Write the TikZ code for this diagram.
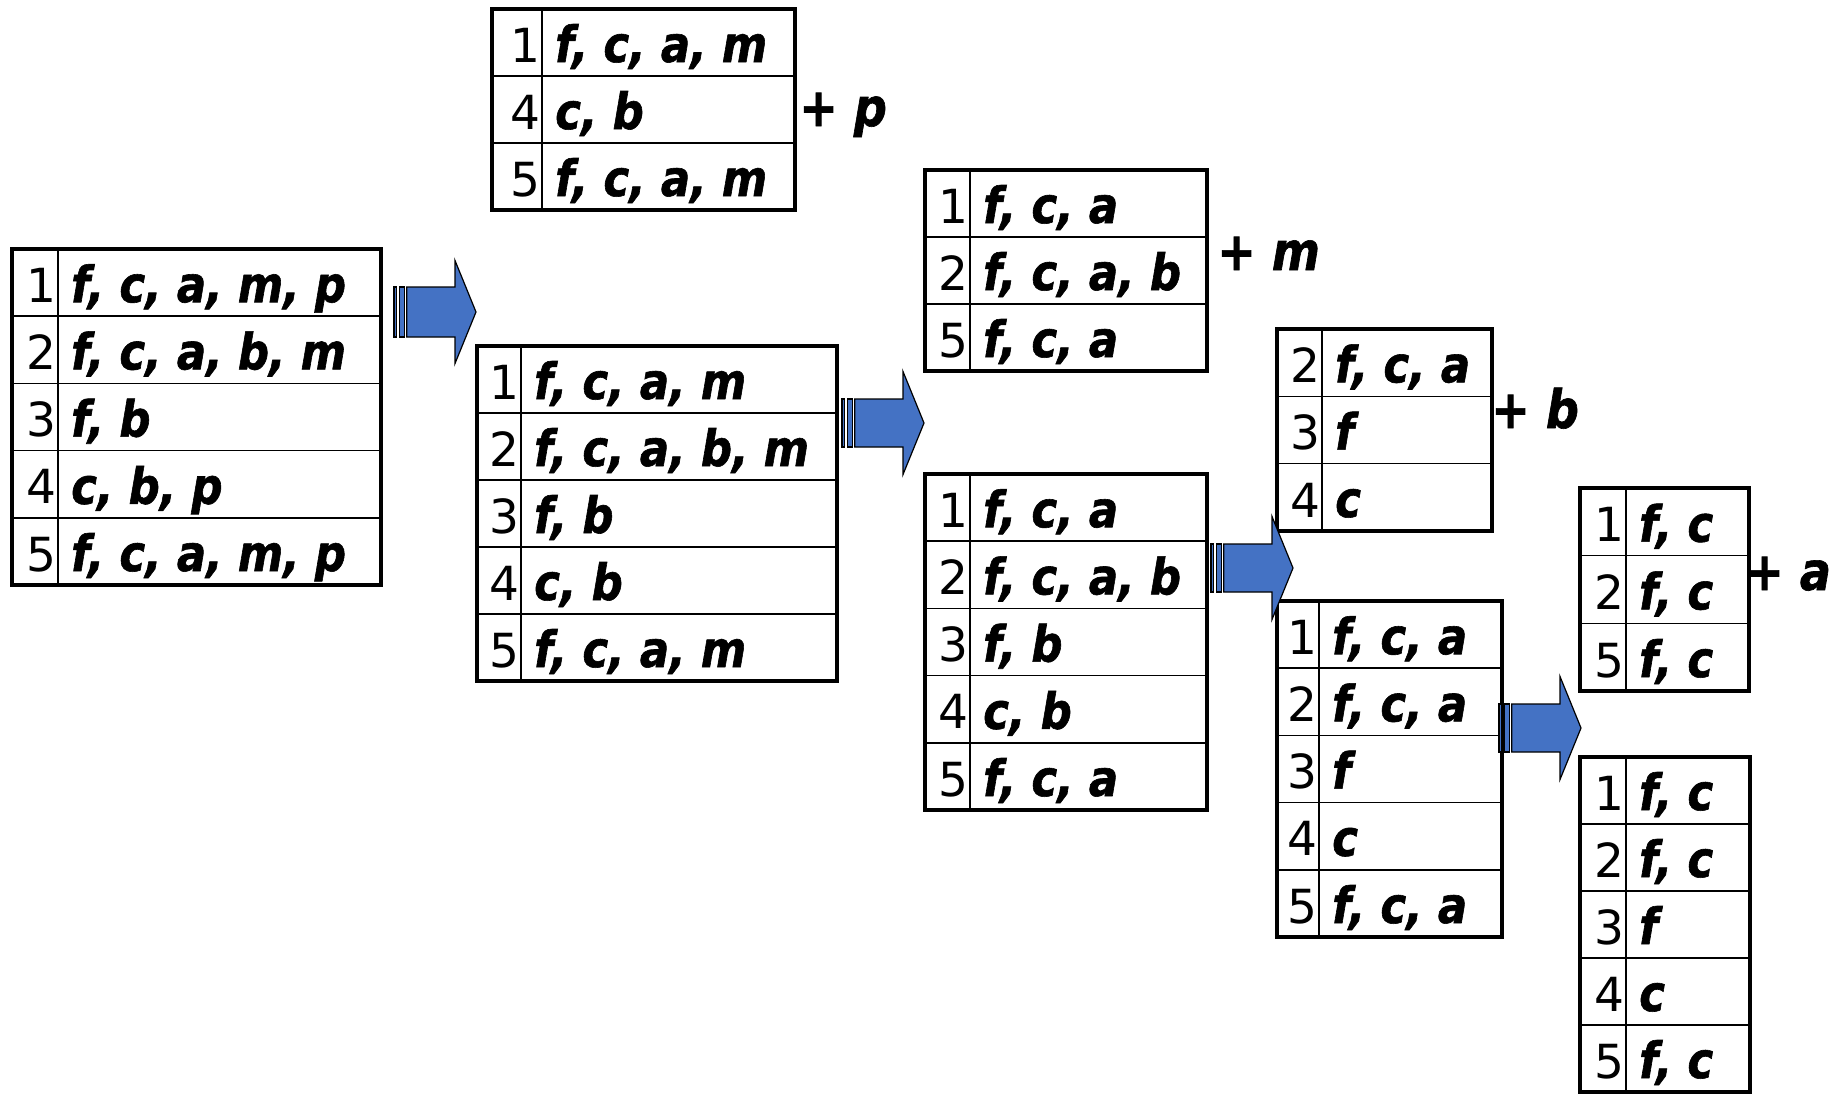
\documentclass[tikz,border=0pt]{standalone}
\usepackage{fontspec}
\newfontfamily\itmfont{DejaVu Sans}[FakeStretch=0.87, BoldItalicFeatures={FakeBold=1.2}, BoldFeatures={FakeBold=1.2}]
\newfontfamily\digfont{DejaVu Sans}
\definecolor{arrowblue}{HTML}{4472C4}
\tikzset{
  dig/.style={font=\digfont\fontsize{47bp}{56bp}\selectfont, inner sep=0pt},
  itm/.style={font=\itmfont\fontsize{50bp}{58bp}\selectfont\bfseries\itshape, inner sep=0pt},
  plus/.style={font=\itmfont\fontsize{53bp}{60bp}\selectfont\bfseries, inner sep=0pt},
  innerline/.style={line width=1.6bp, draw=black},
  outerbox/.style={draw=black, line width=3.5bp, inner sep=0pt, outer sep=0pt},
  sarrow/.style={fill=arrowblue, draw=black, line width=1.2bp, line join=miter},
}
% name, x1, x2, xdiv, ytop, ybot, nrows, rows
\newcommand\mktable[8]{%
  \pgfmathsetmacro{\rh}{(#6-#5)/#7}
  \foreach [count=\k] \d/\t in {#8} {
    \pgfmathsetmacro{\yb}{#5+\k*\rh}
    \node[dig, anchor=base east] (#1-d\k) at (#4-1.5,\yb-14) {\d};
    \node[itm, anchor=base west] (#1-t\k) at (#4+13,\yb-14) {\t};
    \ifnum\k<#7 \draw[innerline] (#2,\yb) -- (#3,\yb); \fi
  }
  \draw[innerline] (#4,#5) -- (#4,#6);
  \pgfmathsetmacro{\bw}{#3-#2}
  \pgfmathsetmacro{\bh}{#6-#5}
  \node[outerbox, minimum width=\bw bp, minimum height=\bh bp] (#1) at ({(#2+#3)/2},{(#5+#6)/2}) {};
}
% name, left x, centre y, body half height
\newcommand\mkarrow[4]{%
  \coordinate (#1) at (#2,#3);
  \begin{scope}[shift={(#1)}]
    \filldraw[sarrow] (0,-#4) rectangle (2.6,#4);
    \filldraw[sarrow] (5.1,-#4) rectangle (10.3,#4);
    \filldraw[sarrow] (12.8,-#4) -- (61,-#4) -- (61,-51.5) -- (82,0) -- (61,51.5) -- (61,#4) -- (12.8,#4) -- cycle;
  \end{scope}
}
\begin{document}
\begin{tikzpicture}[x=1bp,y=-1bp]
\useasboundingbox (0,0) rectangle (1837,1096);
\mktable{A}{12}{381}{58}{249}{585}{5}{1/{f, c, a, m, p}, 2/{f, c, a, b, m}, 3/{f, b}, 4/{c, b, p}, 5/{f, c, a, m, p}}
\mktable{P}{492}{795}{542}{9}{210}{3}{1/{f, c, a, m}, 4/{c, b}, 5/{f, c, a, m}}
\mktable{B}{477}{837}{521}{346}{681}{5}{1/{f, c, a, m}, 2/{f, c, a, b, m}, 3/{f, b}, 4/{c, b}, 5/{f, c, a, m}}
\mktable{M}{925}{1207}{970}{170}{371}{3}{1/{f, c, a}, 2/{f, c, a, b}, 5/{f, c, a}}
\mktable{C}{925}{1207}{970}{474}{810}{5}{1/{f, c, a}, 2/{f, c, a, b}, 3/{f, b}, 4/{c, b}, 5/{f, c, a}}
\mktable{Bt}{1277}{1492}{1322}{329}{531}{3}{2/{f, c, a}, 3/f, 4/c}
\mktable{D}{1277}{1502}{1319}{601}{937}{5}{1/{f, c, a}, 2/{f, c, a}, 3/f, 4/c, 5/{f, c, a}}
\mktable{Aa}{1580}{1749}{1626}{488}{691}{3}{1/{f, c}, 2/{f, c}, 5/{f, c}}
\mktable{E}{1580}{1750}{1626}{757}{1092}{5}{1/{f, c}, 2/{f, c}, 3/f, 4/c, 5/{f, c}}
\node[plus, anchor=base west] (plusp) at (799,126) {+ {\itshape p}};
\node[plus, anchor=base west] (plusm) at (1217,270) {+ {\itshape m}};
\node[plus, anchor=base west] (plusb) at (1491,428) {+ {\itshape b}};
\node[plus, anchor=base west] (plusa) at (1745,590) {+ {\itshape a}};
\mkarrow{ar1}{394}{312}{25}
\mkarrow{ar2}{842}{423}{24}
\mkarrow{ar3}{1211}{568}{24}
\mkarrow{ar4}{1499}{728}{24}
\end{tikzpicture}
\end{document}
